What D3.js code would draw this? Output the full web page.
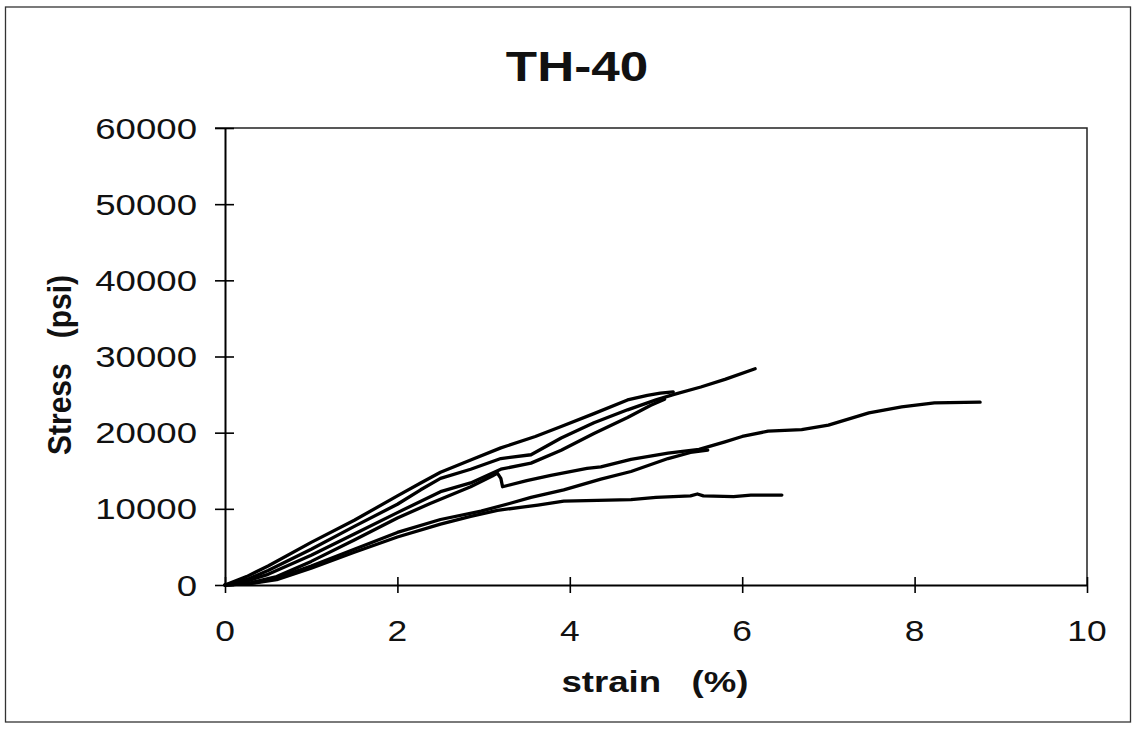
<!DOCTYPE html>
<html>
<head>
<meta charset="utf-8">
<script src="https://cdn.jsdelivr.net/npm/d3@7"></script>
<style>
  html, body { margin: 0; padding: 0; background: #fff; }
  svg text { font-family: "Liberation Sans", Arial, sans-serif; fill: #111; }
</style>
</head>
<body>
<div id="chart"></div>
<script>
// === Data (strain %, stress psi) ===
const specimenA = [[0,0],[0.25,1100],[0.5,2500],[1,5600],[1.5,8500],[2,11700],[2.27,13400],[2.5,14800],[2.85,16400],[3.2,18000],[3.6,19500],[3.9,20800],[4.28,22500],[4.67,24300],[4.9,24900],[5.05,25200],[5.2,25350]];
const specimenB = [[0,0],[0.25,700],[0.5,1900],[1,4700],[1.5,7700],[2,10600],[2.27,12500],[2.5,14000],[2.85,15200],[3.2,16600],[3.55,17100],[3.9,19300],[4.28,21300],[4.67,23000],[5.0,24300],[5.2,25000],[5.52,26000],[5.8,27000],[6.15,28400]];
const specimenC = [[0,0],[0.25,500],[0.5,1400],[1,3900],[1.5,6700],[2,9500],[2.5,12250],[2.85,13400],[3.2,15200],[3.55,16000],[3.9,17700],[4.28,19900],[4.67,22000],[4.94,23600],[5.1,24400]];
const specimenD = [[0,0],[0.3,300],[0.6,1100],[1,3100],[1.5,5900],[2,8800],[2.38,10700],[2.85,12900],[3.1,14300],[3.16,14700],[3.2,14000],[3.22,12900],[3.5,13700],[3.78,14400],[4.2,15300],[4.36,15500],[4.71,16500],[5.14,17300],[5.5,17800],[5.8,18800],[6.0,19500],[6.3,20200],[6.69,20400],[7.0,21000],[7.47,22600],[7.85,23400],[8.23,23900],[8.76,24000]];
const specimenE = [[0,0],[0.3,200],[0.6,900],[1,2500],[1.5,4700],[2,6900],[2.5,8600],[2.97,9700],[3.3,10700],[3.55,11500],[3.93,12500],[4.36,13900],[4.71,14900],[5.14,16600],[5.4,17400],[5.6,17700]];
const specimenF = [[0,0],[0.3,200],[0.6,700],[1,2200],[1.5,4300],[2,6300],[2.5,8000],[2.85,9000],[3.16,9800],[3.63,10500],[3.93,11000],[4.71,11200],[5.0,11500],[5.2,11600],[5.4,11700],[5.48,11950],[5.55,11700],[5.9,11600],[6.1,11800],[6.46,11800]];
const specimens = [specimenA, specimenB, specimenC, specimenD, specimenE, specimenF];

const xTicks = [0, 2, 4, 6, 8, 10];
const yTicks = [0, 10000, 20000, 30000, 40000, 50000, 60000];

const chartTitle = "TH-40";
const xTitle = "strain\u00a0\u00a0\u00a0(%)";
const yTitle = "Stress\u00a0\u00a0\u00a0(psi)";

// === Dimensions ===
const width = 1135;
const height = 731;
const plot = { left: 225, right: 1087, top: 128, bottom: 585 };
const stretch = 1.22; // scanned glyphs are wider than the font

const svg = d3.select("#chart")
  .append("svg")
  .attr("width", width)
  .attr("height", height);

// outer frame
svg.append("rect")
  .attr("x", 5.5).attr("y", 7)
  .attr("width", 1125).attr("height", 715)
  .attr("fill", "none")
  .attr("stroke", "#333")
  .attr("stroke-width", 1.3);

// === Scales ===
const x = d3.scaleLinear().domain([0, 10]).range([plot.left, plot.right]);
const y = d3.scaleLinear().domain([0, 60000]).range([plot.bottom, plot.top]);

// text with the horizontal stretch of the scan
function label(px, py, str, opts) {
  const g = svg.append("g")
    .attr("transform", `translate(${px},${py}) scale(${opts.sx || stretch},1)`);
  return g.append("text")
    .attr("text-anchor", opts.anchor || "middle")
    .attr("font-size", opts.size + "px")
    .attr("font-weight", opts.bold ? "bold" : "normal")
    .text(str);
}

// === Plot frame (top and right edges) ===
svg.append("path")
  .attr("d", `M${plot.left - 10},${plot.top}H${plot.right}V${plot.bottom}`)
  .attr("fill", "none")
  .attr("stroke", "#222")
  .attr("stroke-width", 1.5);

// === Axes ===
const xAxis = d3.axisBottom(x).tickValues(xTicks).tickSize(0).tickFormat("");
const gx = svg.append("g").attr("transform", `translate(0,${plot.bottom})`).call(xAxis);
gx.select(".domain").attr("stroke", "#000").attr("stroke-width", 2);
gx.selectAll(".tick line").remove();
gx.selectAll(".tick").append("line")
  .attr("y1", -8).attr("y2", 8)
  .attr("stroke", "#000").attr("stroke-width", 1.6);

const yAxis = d3.axisLeft(y).tickValues(yTicks).tickSize(0).tickFormat("");
const gy = svg.append("g").attr("transform", `translate(${plot.left},0)`).call(yAxis);
gy.select(".domain").attr("stroke", "#000").attr("stroke-width", 2);
gy.selectAll(".tick line").remove();
gy.selectAll(".tick").append("line")
  .attr("x1", -10).attr("x2", 9)
  .attr("stroke", "#000").attr("stroke-width", 1.6);

// tick labels
xTicks.forEach((t) => label(x(t), 641, String(t), { size: 29 }));
yTicks.forEach((t) => label(plot.left - 28, y(t) + 10.5, String(t), { size: 30, anchor: "end" }));

// === Titles ===
label(577, 81, chartTitle, { size: 42, bold: true });
label(655, 692, xTitle, { size: 30, bold: true });
svg.append("g")
  .attr("transform", `translate(71,365) rotate(-90) scale(1,1.08)`)
  .append("text")
  .attr("text-anchor", "middle")
  .attr("font-size", "30px")
  .attr("font-weight", "bold")
  .text(yTitle);

// === Curves ===
const line = d3.line()
  .x((d) => x(d[0]))
  .y((d) => y(d[1]));

svg.append("g")
  .selectAll("path")
  .data(specimens)
  .enter()
  .append("path")
  .attr("d", line)
  .attr("fill", "none")
  .attr("stroke", "#000")
  .attr("stroke-width", 3.3)
  .attr("stroke-linejoin", "round")
  .attr("stroke-linecap", "round");
</script>
</body>
</html>
